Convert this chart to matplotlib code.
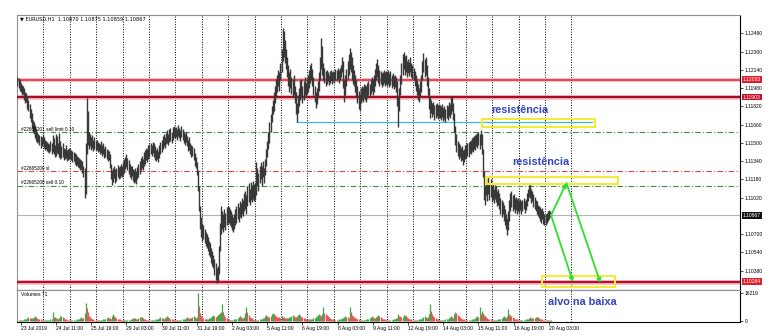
import numpy as np
import matplotlib.pyplot as plt
from matplotlib.patches import Rectangle

plt.rcParams['font.family'] = ['Liberation Sans', 'DejaVu Sans']

# hourly bars, (low, high) in pips above 1.10000, one row per trading day
week1 = [
    (200,208),(198,207),(196,205),(195,203),(192,201),(193,200),(188,198),(185,195),(186,194),(180,190),(178,188),(172,184),(168,180),(163,176),(160,170),(158,168),(154,166),(152,162),(150,160),(151,158),(148,157),(146,156),(147,155),(149,158),
    (146,155),(144,153),(145,152),(143,151),(142,150),(141,149),(143,152),(140,150),(142,157),(140,154),(138,148),(139,158),(141,156),(140,150),(138,159),(136,152),(137,147),(138,150),(135,146),(136,145),(137,148),(134,144),(135,145),(136,146),
    (136,145),(135,144),(133,143),(134,142),(132,141),(130,140),(131,139),(129,138),(128,137),(126,136),(127,135),(124,134),(120,130),(102,128),(105,150),(140,189),(148,178),(145,160),(147,158),(144,155),(146,157),(143,153),(145,155),(144,152),
    (144,153),(142,151),(143,150),(140,149),(141,152),(139,148),(140,150),(137,146),(138,147),(136,145),(134,144),(135,143),(128,140),(118,132),(113,126),(116,128),(119,130),(115,127),(117,128),(120,131),(118,129),(119,130),(121,132),(120,130),
]
week2 = [
    (122,133),(124,136),(127,138),(129,140),(126,137),(123,135),(120,132),(118,130),(121,130),(117,127),(115,126),(116,128),(114,125),(118,129),(120,132),(123,134),(126,137),(128,139),(126,136),(130,142),(132,144),(135,146),(133,145),(136,148),
    (138,149),(140,150),(139,148),(141,151),(138,150),(135,147),(134,144),(136,146),(133,143),(137,148),(140,151),(142,153),(145,156),(147,158),(146,155),(149,159),(150,161),(148,158),(151,162),(152,163),(150,160),(153,164),(155,165),(154,163),
    (155,164),(153,162),(156,166),(154,163),(152,161),(155,165),(153,162),(150,160),(148,158),(151,160),(147,156),(143,153),(144,155),(140,150),(138,148),(139,147),(135,146),(130,141),(128,138),(122,133),(108,126),(90,112),(75,95),(68,85),
    (64,80),(66,78),(62,75),(60,72),(58,70),(55,68),(52,64),(50,62),(45,58),(42,55),(40,52),(34,48),(30,45),(27,40),(29,42),(35,60),(55,80),(70,95),(75,90),(72,88),(76,92),(74,89),(78,94),(80,95),
    (80,94),(78,92),(76,90),(74,88),(72,85),(75,88),(78,92),(80,95),(83,97),(81,94),(85,99),(84,97),(88,102),(86,100),(90,106),(92,108),(88,104),(95,112),(98,115),(96,110),(100,116),(98,113),(101,117),(99,114),
]
week3 = [
    (100,115),(104,133),(112,128),(108,124),(115,130),(118,133),(112,130),(120,134),(115,128),(122,136),(130,145),(138,152),(145,160),(150,168),(160,175),(168,182),(175,188),(178,195),(185,200),(190,206),(195,210),(200,214),(196,212),(205,220),
    (212,232),(222,251),(225,248),(220,240),(215,232),(208,225),(200,218),(195,212),(198,215),(193,208),(190,206),(192,210),(185,200),(175,195),(168,185),(176,192),(182,198),(188,205),(190,206),(185,200),(188,204),(192,208),(190,203),(193,207),
    (195,210),(198,214),(203,218),(205,220),(200,215),(192,208),(186,200),(181,195),(184,198),(190,204),(196,212),(205,225),(215,242),(210,235),(205,220),(203,216),(200,213),(202,214),(204,212),(201,210),(203,213),(205,214),(202,212),(204,213),
    (203,212),(205,215),(204,214),(206,216),(203,214),(205,216),(208,218),(212,225),(198,222),(186,205),(192,210),(200,215),(206,222),(210,228),(215,233),(212,230),(205,225),(202,218),(200,214),(195,210),(190,205),(185,200),(180,196),(178,193),
    (185,198),(188,200),(186,199),(190,202),(188,201),(186,200),(189,203),(192,204),(190,202),(193,205),(196,208),(192,206),(195,210),(200,215),(205,220),(208,224),(203,218),(200,214),(202,213),(199,211),(201,212),(203,214),(200,212),(202,213),
]
week4 = [
    (200,212),(202,214),(199,211),(201,213),(198,210),(200,211),(197,209),(199,210),(195,208),(182,204),(164,190),(178,198),(192,210),(202,220),(210,228),(215,230),(210,226),(212,227),(208,222),(211,224),(209,221),(212,225),(208,220),(206,218),
    (205,216),(200,213),(196,210),(192,205),(188,202),(186,198),(190,204),(195,210),(205,222),(212,229),(208,224),(210,225),(200,218),(192,208),(180,198),(172,190),(176,188),(173,185),(175,186),(170,183),(172,184),(174,185),(171,183),(173,184),
    (172,183),(170,182),(173,184),(169,181),(171,182),(168,180),(172,183),(170,182),(174,186),(172,184),(175,190),(178,191),(170,185),(160,176),(148,165),(142,158),(139,152),(136,150),(138,148),(134,146),(135,147),(131,144),(133,145),(136,148),
    (137,149),(139,150),(138,151),(141,152),(140,153),(143,154),(142,155),(145,156),(144,157),(147,158),(146,159),(148,160),(145,158),(148,161),(140,158),(120,145),(100,125),(96,112),(104,118),(99,115),(105,120),(100,114),(103,118),(98,112),
    (100,114),(97,110),(101,113),(98,112),(95,108),(96,110),(92,106),(88,102),(85,100),(88,98),(82,96),(78,92),(75,88),(69,84),(74,90),(82,100),(90,106),(94,108),(90,104),(92,105),(89,102),(91,103),(88,101),(90,102),
]
week5 = [
    (89,100),(91,101),(88,99),(90,100),(92,102),(89,99),(91,101),(95,106),(99,110),(103,113),(102,114),(97,110),(99,108),(94,105),(92,103),(90,100),(88,99),(86,96),(84,95),(82,94),(80,92),(83,93),(79,90),(78,88),
    (78,88),(80,89),(82,90),(83,91),(85,90),(86,88),
]

# tick volume per bar, in hundreds
volumes = [
    6,5,4,5,6,8,9,11,13,18,24,20,17,15,18,24,28,22,18,14,11,9,7,5,
    5,4,4,5,6,7,9,12,50,22,26,19,16,14,19,27,30,24,18,14,10,8,6,5,
    6,5,4,5,6,8,10,12,14,18,22,18,16,45,106,78,50,30,24,18,14,10,8,6,
    6,5,4,5,6,7,9,11,13,17,22,18,15,14,30,42,28,22,18,14,11,9,7,5,
    5,4,4,5,6,7,8,10,12,16,20,17,14,13,17,22,26,21,17,13,10,8,6,5,
    5,4,4,5,6,7,9,11,13,17,21,18,15,14,18,24,28,22,18,14,11,9,7,5,
    6,5,4,5,6,8,9,11,13,17,22,19,16,15,19,25,28,23,19,24,162,85,45,28,
    20,15,12,10,11,14,16,20,24,30,36,30,26,28,34,40,45,55,97,50,34,24,18,12,
    10,8,7,7,8,10,12,14,16,22,28,24,20,18,24,45,79,50,35,26,20,15,11,8,
    10,8,7,8,9,11,13,16,20,28,36,30,26,24,30,40,45,38,32,28,26,24,22,20,
    30,26,22,18,16,18,20,22,24,30,36,30,26,24,28,34,38,32,26,22,18,15,12,10,
    12,10,9,10,12,16,20,26,30,36,40,34,30,38,79,45,40,34,28,22,18,14,11,9,
    9,8,7,8,9,11,13,15,18,24,30,26,22,20,79,50,36,30,26,20,16,12,10,8,
    8,7,6,7,8,10,12,14,16,22,28,24,20,18,24,30,34,28,24,18,14,11,9,7,
    7,6,5,6,7,9,11,13,15,20,42,30,28,22,26,32,36,30,24,18,14,11,9,7,
    8,7,6,7,8,10,12,14,16,22,28,24,20,22,40,97,60,40,30,22,16,12,9,7,
    8,7,6,7,8,10,12,14,16,22,28,24,20,40,55,45,34,28,24,18,14,11,9,7,
    8,7,6,7,8,10,12,14,16,22,28,24,79,40,60,45,34,28,24,18,14,11,9,7,
    8,7,6,7,8,10,12,14,16,22,28,24,20,30,70,40,34,28,24,18,14,11,9,7,
    6,5,5,6,7,8,10,12,14,18,22,20,16,15,18,24,26,22,18,14,11,9,7,6,
    5,4,4,5,6,5,
]

date_labels = ['23 Jul 2019', '24 Jul 11:00', '25 Jul 19:00', '29 Jul 03:00', '30 Jul 11:00',
               '31 Jul 19:00', '2 Aug 03:00', '5 Aug 11:00', '6 Aug 19:00', '8 Aug 03:00',
               '9 Aug 11:00', '12 Aug 19:00', '14 Aug 03:00', '15 Aug 11:00', '16 Aug 19:00',
               '20 Aug 03:00']
date_label_bars = [3, 35, 67, 99, 131, 163, 195, 227, 259, 291, 323, 355, 387, 419, 451, 483]
# 1.10860 sits under the current-price box, so MT4 hides it
price_ticks = [1.10380, 1.10540, 1.10700, 1.11020, 1.11180, 1.11340, 1.11500,
               1.11660, 1.11820, 1.11980, 1.12140, 1.12300, 1.12460]

bars = week1 + week2 + week3 + week4 + week5
lows = np.array([b[0] for b in bars]) / 10000 + 1.1
highs = np.array([b[1] for b in bars]) / 10000 + 1.1
idx = np.arange(len(bars))
vol = np.array(volumes) * 100

W, H = 776, 336
fig = plt.figure(figsize=(W / 100, H / 100), dpi=100)
ax = fig.add_axes([17 / W, 1 - 290 / H, 723 / W, 275 / H])
axv = fig.add_axes([17 / W, 1 - 322 / H, 723 / W, 32 / H])

xlim = (-0.45, 656.8)
ax.set_xlim(xlim)
axv.set_xlim(xlim)
ax.set_ylim(1.10211, 1.12622)
axv.set_ylim(-580, 17960)

# period separators (midnight)
for d in range(24, 505, 24):
    for a in (ax, axv):
        a.axvline(d - 0.5, color='black', lw=0.7, ls=(0, (1, 1.6)), zorder=1)

# level lines
ax.axhline(1.12053, color='#f6c4ca', lw=3.0, zorder=2)
ax.axhline(1.12053, color='#e02836', lw=1.1, zorder=3)
ax.axhline(1.11903, color='#f4bcc4', lw=3.4, zorder=2)
ax.axhline(1.11903, color='#a80c24', lw=1.6, zorder=3)
ax.axhline(1.10284, color='#f4bcc4', lw=3.4, zorder=2)
ax.axhline(1.10284, color='#b80c28', lw=1.6, zorder=3)
ax.axhline(1.10867, color='#b4b4b4', lw=0.8, zorder=2)

ax.axhline(1.11596, color='#3c8c4a', lw=0.8, ls=(0, (5, 2, 1, 2)), zorder=2)
ax.axhline(1.11254, color='#d84848', lw=0.8, ls=(0, (5, 2, 1, 2)), zorder=2)
ax.axhline(1.11124, color='#3c8c4a', lw=0.8, ls=(0, (5, 2, 1, 2)), zorder=2)
ax.text(3, 1.11596 + 0.00004, '#22665201 sell limit 0.10', fontsize=3.4, va='bottom', zorder=6)
ax.text(3, 1.11254 + 0.00004, '#22665200 sl', fontsize=3.4, va='bottom', zorder=6)
ax.text(3, 1.11124 + 0.00004, '#22665200 sell 0.10', fontsize=3.4, va='bottom', zorder=6)

# trend line
ax.plot([254, 522], [1.11684, 1.11684], color='#38c0d0', lw=0.9, zorder=3)

# candles
ax.vlines(idx, lows, highs, color='#383838', lw=1.0, zorder=4)

# yellow zones
for x0, x1, p0, p1 in [(422, 525, 1.11640, 1.11710), (426, 546, 1.11140, 1.11201),
                       (477, 543, 1.10237, 1.10333)]:
    ax.add_patch(Rectangle((x0, p0), x1 - x0, p1 - p0, fill=False, ec='#f2ec38', lw=1.5, zorder=5))

# arrows
arrow = dict(arrowstyle='-|>', color='#2ee02e', lw=1.3, mutation_scale=6, shrinkA=0, shrinkB=0)
ax.annotate('', xy=(499, 1.11149), xytext=(485, 1.10867), arrowprops=arrow, zorder=6)
ax.annotate('', xy=(530, 1.10272), xytext=(499, 1.11149), arrowprops=arrow, zorder=6)
ax.annotate('', xy=(505, 1.10280), xytext=(485, 1.10867), arrowprops=arrow, zorder=6)

ax.text(431, 1.11789, 'resistência', color='#3344c4', fontsize=7.8, weight='bold', va='center', zorder=6)
ax.text(450, 1.11333, 'resistência', color='#3344c4', fontsize=7.8, weight='bold', va='center', zorder=6)
fig.text(548 / W, 1 - 302 / H, 'alvo na baixa', color='#3344c4', fontsize=7.8, weight='bold', va='center')

# price scale
ax.yaxis.tick_right()
ax.set_yticks(price_ticks)
ax.set_yticklabels(['%.5f' % p for p in price_ticks])
ax.tick_params(axis='y', labelsize=3.6, length=2, width=0.5, pad=1.5)
ax.tick_params(axis='x', bottom=False, labelbottom=False)
for p, txt, c in [(1.12053, '1.12053', '#e0202c'), (1.11903, '1.11903', '#c8102a'),
                  (1.10284, '1.10284', '#e0202c'), (1.10867, '1.10867', '#101010')]:
    ax.text(1.004, p, txt, transform=ax.get_yaxis_transform(), color='white', fontsize=3.6,
            va='center', ha='left', bbox=dict(fc=c, ec='none', pad=0.7), zorder=7, clip_on=False)

for a in (ax, axv):
    a.set_facecolor('white')
    a.spines['left'].set_color('#909090')
    a.spines['top'].set_color('#909090')
    a.spines['right'].set_color('black')
    a.spines['bottom'].set_color('black')
    for s in a.spines.values():
        s.set_linewidth(0.8)

# volumes
vcol = ['#3caa48' if i == 0 or vol[i] >= vol[i - 1] else '#e05858' for i in range(len(vol))]
axv.vlines(idx, 0, vol, colors=vcol, lw=0.9, zorder=3)
axv.yaxis.tick_right()
axv.set_yticks([0, 16219])
axv.set_yticklabels(['0', '16219'])
axv.tick_params(axis='y', labelsize=3.6, length=2, width=0.5, pad=1.5)
axv.set_xticks(date_label_bars)
axv.set_xticklabels(date_labels)
axv.tick_params(axis='x', labelsize=3.6, length=2, width=0.5, pad=1)
for lbl in axv.get_xticklabels():
    lbl.set_ha('left')
axv.text(3, 15500, 'Volumes 71', fontsize=3.6, va='center')

fig.text(20 / W, 1 - 19 / H, '\u25bc EURUSD,H1  1.10870 1.10875 1.10859 1.10867',
         fontsize=3.6, va='center', family=['DejaVu Sans'])

fig.savefig('out.png', dpi=100)
